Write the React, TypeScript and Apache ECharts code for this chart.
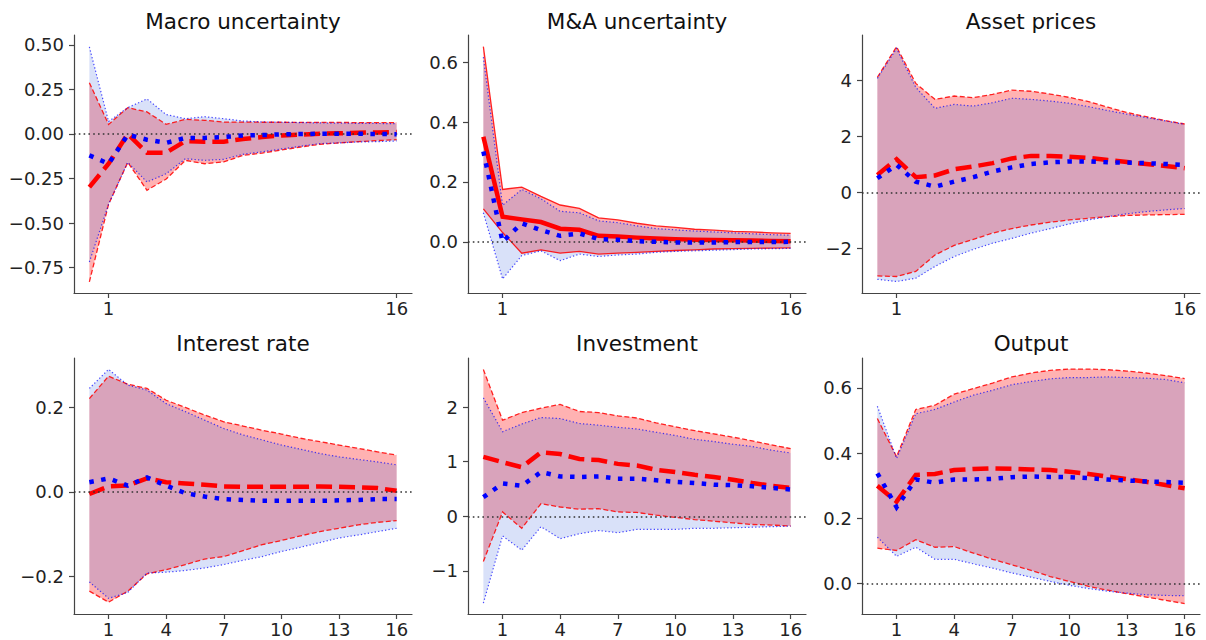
import React, { useEffect, useRef } from "react";
import * as echarts from "echarts";

// Horizons
const horizons = [0, 1, 2, 3, 4, 5, 6, 7, 8, 9, 10, 11, 12, 13, 14, 15, 16];
const topTicks = [1, 16];
const bottomTicks = [1, 4, 7, 10, 13, 16];

// Panel titles
const titles = ["Macro uncertainty", "M&A uncertainty", "Asset prices", "Interest rate", "Investment", "Output"];

// Macro uncertainty
const macroRedUp = [0.288, 0.054, 0.148, 0.124, 0.054, 0.082, 0.077, 0.067, 0.067, 0.066, 0.066, 0.065, 0.065, 0.065, 0.064, 0.064, 0.064];
const macroRedLo = [-0.831, -0.395, -0.159, -0.316, -0.253, -0.148, -0.167, -0.157, -0.12, -0.107, -0.09, -0.073, -0.058, -0.05, -0.043, -0.037, -0.032];
const macroRedMed = [-0.298, -0.167, 0.0, -0.105, -0.105, -0.04, -0.043, -0.043, -0.028, -0.017, -0.008, -0.004, 0.002, 0.004, 0.007, 0.009, 0.011];
const macroBlueUp = [0.489, 0.07, 0.148, 0.197, 0.109, 0.086, 0.097, 0.086, 0.073, 0.068, 0.066, 0.064, 0.062, 0.061, 0.06, 0.059, 0.058];
const macroBlueLo = [-0.719, -0.395, -0.159, -0.27, -0.223, -0.139, -0.148, -0.142, -0.114, -0.1, -0.084, -0.069, -0.054, -0.05, -0.045, -0.043, -0.039];
const macroBlueMed = [-0.12, -0.167, -0.004, -0.032, -0.05, -0.022, -0.022, -0.017, -0.008, -0.006, -0.002, 0.0, 0.001, 0.001, 0.001, 0.0, -0.001];

// M&A uncertainty
const maRedUp = [0.652, 0.175, 0.183, 0.152, 0.123, 0.112, 0.08, 0.073, 0.062, 0.053, 0.048, 0.042, 0.039, 0.035, 0.033, 0.03, 0.028];
const maRedLo = [0.11, 0.031, -0.038, -0.027, -0.038, -0.032, -0.041, -0.038, -0.035, -0.032, -0.029, -0.027, -0.024, -0.023, -0.022, -0.021, -0.02];
const maRedMed = [0.351, 0.084, 0.075, 0.066, 0.044, 0.04, 0.02, 0.018, 0.014, 0.011, 0.009, 0.007, 0.006, 0.005, 0.004, 0.003, 0.002];
const maBlueUp = [0.617, 0.122, 0.175, 0.144, 0.102, 0.097, 0.07, 0.064, 0.053, 0.044, 0.04, 0.036, 0.033, 0.03, 0.027, 0.024, 0.022];
const maBlueLo = [0.097, -0.124, -0.046, -0.03, -0.063, -0.041, -0.049, -0.044, -0.041, -0.035, -0.032, -0.03, -0.028, -0.026, -0.024, -0.023, -0.022];
const maBlueMed = [0.302, 0.0, 0.062, 0.039, 0.02, 0.028, 0.009, 0.007, 0.002, 0.0, -0.002, -0.002, -0.002, -0.001, -0.001, -0.001, 0.0];

// Asset prices
const assetRedUp = [4.11, 5.2, 3.89, 3.32, 3.44, 3.38, 3.5, 3.65, 3.61, 3.51, 3.39, 3.24, 3.04, 2.85, 2.7, 2.56, 2.44];
const assetRedLo = [-2.99, -3.01, -2.83, -2.24, -1.9, -1.68, -1.46, -1.3, -1.17, -1.07, -0.99, -0.93, -0.87, -0.83, -0.81, -0.8, -0.79];
const assetRedMed = [0.62, 1.18, 0.54, 0.6, 0.82, 0.92, 1.04, 1.21, 1.3, 1.3, 1.27, 1.23, 1.15, 1.08, 1.01, 0.94, 0.86];
const assetBlueUp = [4.07, 5.14, 3.75, 3.0, 3.14, 3.08, 3.2, 3.36, 3.32, 3.26, 3.18, 3.06, 2.92, 2.79, 2.67, 2.55, 2.43];
const assetBlueLo = [-3.11, -3.19, -3.07, -2.65, -2.3, -2.04, -1.82, -1.65, -1.46, -1.3, -1.13, -0.99, -0.87, -0.77, -0.69, -0.63, -0.58];
const assetBlueMed = [0.5, 0.98, 0.38, 0.2, 0.38, 0.54, 0.74, 0.89, 1.01, 1.07, 1.1, 1.1, 1.07, 1.06, 1.04, 1.01, 0.98];

// Interest rate
const rateRedUp = [0.221, 0.274, 0.255, 0.245, 0.217, 0.2, 0.182, 0.166, 0.156, 0.146, 0.137, 0.127, 0.119, 0.111, 0.103, 0.095, 0.087];
const rateRedLo = [-0.235, -0.261, -0.235, -0.194, -0.184, -0.172, -0.159, -0.153, -0.139, -0.125, -0.115, -0.104, -0.094, -0.086, -0.078, -0.072, -0.068];
const rateRedMed = [-0.005, 0.013, 0.015, 0.032, 0.023, 0.02, 0.017, 0.013, 0.012, 0.012, 0.012, 0.012, 0.013, 0.012, 0.011, 0.009, 0.003];
const rateBlueUp = [0.245, 0.29, 0.253, 0.241, 0.209, 0.19, 0.17, 0.15, 0.135, 0.123, 0.111, 0.101, 0.091, 0.083, 0.077, 0.071, 0.064];
const rateBlueLo = [-0.213, -0.252, -0.238, -0.192, -0.19, -0.186, -0.18, -0.172, -0.162, -0.153, -0.141, -0.131, -0.12, -0.109, -0.102, -0.094, -0.086];
const rateBlueMed = [0.023, 0.032, 0.015, 0.034, 0.015, -0.003, -0.011, -0.017, -0.019, -0.021, -0.021, -0.021, -0.021, -0.02, -0.019, -0.017, -0.017];

// Investment
const invRedUp = [2.69, 1.76, 1.9, 1.98, 2.05, 1.92, 1.9, 1.84, 1.8, 1.71, 1.64, 1.57, 1.51, 1.45, 1.38, 1.31, 1.24];
const invRedLo = [-0.83, 0.08, -0.22, 0.23, 0.17, 0.13, 0.14, 0.08, 0.07, 0.02, -0.02, -0.06, -0.09, -0.12, -0.15, -0.16, -0.18];
const invRedMed = [1.09, 0.99, 0.9, 1.17, 1.14, 1.05, 1.03, 0.96, 0.93, 0.85, 0.81, 0.76, 0.72, 0.67, 0.61, 0.56, 0.52];
const invBlueUp = [2.17, 1.55, 1.69, 1.81, 1.79, 1.7, 1.67, 1.63, 1.6, 1.54, 1.48, 1.41, 1.37, 1.32, 1.28, 1.21, 1.16];
const invBlueLo = [-1.59, -0.36, -0.62, -0.19, -0.41, -0.32, -0.26, -0.3, -0.24, -0.24, -0.24, -0.22, -0.22, -0.21, -0.2, -0.19, -0.18];
const invBlueMed = [0.35, 0.6, 0.56, 0.81, 0.73, 0.72, 0.73, 0.69, 0.69, 0.66, 0.63, 0.61, 0.58, 0.57, 0.55, 0.52, 0.49];

// Output
const outRedUp = [0.506, 0.389, 0.534, 0.547, 0.581, 0.598, 0.615, 0.634, 0.646, 0.654, 0.658, 0.658, 0.656, 0.652, 0.646, 0.638, 0.629];
const outRedLo = [0.108, 0.101, 0.134, 0.111, 0.113, 0.093, 0.074, 0.057, 0.04, 0.021, 0.006, -0.009, -0.021, -0.032, -0.042, -0.052, -0.062];
const outRedMed = [0.3, 0.251, 0.333, 0.336, 0.348, 0.351, 0.353, 0.352, 0.35, 0.348, 0.343, 0.336, 0.328, 0.32, 0.312, 0.302, 0.292];
const outBlueUp = [0.544, 0.384, 0.521, 0.534, 0.557, 0.578, 0.593, 0.61, 0.62, 0.628, 0.632, 0.632, 0.634, 0.632, 0.63, 0.626, 0.616];
const outBlueLo = [0.142, 0.083, 0.111, 0.074, 0.074, 0.06, 0.047, 0.032, 0.019, 0.006, -0.006, -0.016, -0.024, -0.03, -0.035, -0.037, -0.038];
const outBlueMed = [0.338, 0.234, 0.319, 0.309, 0.319, 0.319, 0.321, 0.326, 0.328, 0.327, 0.326, 0.323, 0.319, 0.316, 0.313, 0.311, 0.309];

// Y tick values per panel
const yTicks = [
  [-0.75, -0.5, -0.25, 0, 0.25, 0.5],
  [0, 0.2, 0.4, 0.6],
  [-2, 0, 2, 4],
  [-0.2, 0, 0.2],
  [-1, 0, 1, 2],
  [0, 0.2, 0.4, 0.6],
];
const yDecimals = [2, 1, 0, 1, 0, 1];
const yRanges = [
  [-0.893, 0.556],
  [-0.171, 0.691],
  [-3.6, 5.62],
  [-0.289, 0.317],
  [-1.79, 2.9],
  [-0.094, 0.692],
];

const panels = [
  { redUp: macroRedUp, redLo: macroRedLo, redMed: macroRedMed, blueUp: macroBlueUp, blueLo: macroBlueLo, blueMed: macroBlueMed, solidRed: false },
  { redUp: maRedUp, redLo: maRedLo, redMed: maRedMed, blueUp: maBlueUp, blueLo: maBlueLo, blueMed: maBlueMed, solidRed: true },
  { redUp: assetRedUp, redLo: assetRedLo, redMed: assetRedMed, blueUp: assetBlueUp, blueLo: assetBlueLo, blueMed: assetBlueMed, solidRed: false },
  { redUp: rateRedUp, redLo: rateRedLo, redMed: rateRedMed, blueUp: rateBlueUp, blueLo: rateBlueLo, blueMed: rateBlueMed, solidRed: false },
  { redUp: invRedUp, redLo: invRedLo, redMed: invRedMed, blueUp: invBlueUp, blueLo: invBlueLo, blueMed: invBlueMed, solidRed: false },
  { redUp: outRedUp, redLo: outRedLo, redMed: outRedMed, blueUp: outBlueUp, blueLo: outBlueLo, blueMed: outBlueMed, solidRed: false },
];

const FONT = "DejaVu Sans";
const LEFTS = [74, 468, 862];
const WIDTH = 338;
const TOPS = [35, 358];
const HEIGHTS = [258, 256];

function fmt(v: number, d: number) {
  return v.toFixed(d).replace("-", "\u2212");
}

function pairs(arr: number[]) {
  return horizons.map((x, i) => [x, arr[i]]);
}

function bandSeries(idx: number, up: number[], lo: number[], fill: string, z: number) {
  return {
    type: "custom",
    xAxisIndex: idx,
    yAxisIndex: idx,
    z,
    silent: true,
    data: horizons.map((x, i) => [x, lo[i], up[i]]),
    encode: { x: 0, y: [1, 2] },
    renderItem: (params: any, api: any) => {
      if (params.dataIndex !== 0) return null;
      const pts: number[][] = [];
      for (let i = 0; i < horizons.length; i++) pts.push(api.coord([horizons[i], up[i]]));
      for (let i = horizons.length - 1; i >= 0; i--) pts.push(api.coord([horizons[i], lo[i]]));
      return { type: "polygon", shape: { points: pts }, style: { fill, stroke: "none" } };
    },
  };
}

function lineSeries(idx: number, arr: number[], color: string, width: number, type: any, z: number, extra: any = {}) {
  return {
    type: "line",
    xAxisIndex: idx,
    yAxisIndex: idx,
    data: pairs(arr),
    symbol: "none",
    silent: true,
    z,
    lineStyle: { color, width, type, cap: "butt", join: "miter" },
    ...extra,
  };
}

export default function App() {
  const ref = useRef<HTMLDivElement>(null);
  useEffect(() => {
    if (!ref.current) return;
    const chart = echarts.init(ref.current, undefined, { renderer: "svg" });
    const grid: any[] = [];
    const xAxis: any[] = [];
    const yAxis: any[] = [];
    const series: any[] = [];
    const graphic: any[] = [];
    panels.forEach((p, idx) => {
      const row = Math.floor(idx / 3);
      const col = idx % 3;
      grid.push({ left: LEFTS[col], top: TOPS[row], width: WIDTH, height: HEIGHTS[row], containLabel: false });
      const xt = row === 0 ? topTicks : bottomTicks;
      xAxis.push({
        type: "value",
        gridIndex: idx,
        min: -0.8,
        max: 16.8,
        splitLine: { show: false },
        axisLine: { show: true, onZero: false, lineStyle: { color: "#444", width: 1.2 } },
        axisTick: { show: true, customValues: xt, length: 5, lineStyle: { color: "#444", width: 1.2 } },
        axisLabel: { customValues: xt, margin: 6, color: "#222", fontSize: 18, fontFamily: FONT, formatter: (v: number) => String(v) },
      });
      yAxis.push({
        type: "value",
        gridIndex: idx,
        min: yRanges[idx][0],
        max: yRanges[idx][1],
        splitLine: { show: false },
        axisLine: { show: true, onZero: false, lineStyle: { color: "#444", width: 1.2 } },
        axisTick: { show: true, customValues: yTicks[idx], length: 5, lineStyle: { color: "#444", width: 1.2 } },
        axisLabel: { customValues: yTicks[idx], margin: 10, color: "#222", fontSize: 18, fontFamily: FONT, formatter: (v: number) => fmt(v, yDecimals[idx]) },
      });
      series.push(bandSeries(idx, p.redUp, p.redLo, "rgba(255,0,0,0.3)", 1));
      series.push(bandSeries(idx, p.blueUp, p.blueLo, "rgba(65,105,225,0.2)", 2));
      const redEdgeType = p.solidRed ? "solid" : [5, 2.5];
      series.push(lineSeries(idx, p.redUp, "rgba(255,0,0,0.85)", 1.3, redEdgeType, 3));
      series.push(lineSeries(idx, p.redLo, "rgba(255,0,0,0.85)", 1.3, redEdgeType, 3));
      series.push(lineSeries(idx, p.blueUp, "rgba(0,0,255,0.7)", 1.2, [1.3, 2.2], 3));
      series.push(
        lineSeries(idx, p.blueLo, "rgba(0,0,255,0.7)", 1.2, [1.3, 2.2], 3, {
          markLine: {
            silent: true,
            symbol: ["none", "none"],
            label: { show: false },
            lineStyle: { color: "#333", width: 1.6, type: [1.6, 3.2] },
            data: [{ yAxis: 0 }],
          },
        })
      );
      series.push(lineSeries(idx, p.redMed, "#ff0000", 4.5, p.solidRed ? "solid" : [16, 7], 4));
      series.push(lineSeries(idx, p.blueMed, "#0000ff", 4.5, [4.5, 7.5], 5));
      graphic.push({
        type: "text",
        x: LEFTS[col] + WIDTH / 2,
        y: row === 0 ? 21 : 343,
        style: {
          text: titles[idx],
          align: "center",
          verticalAlign: "middle",
          fontSize: 21.5,
          fontFamily: FONT,
          fill: "#111",
        },
      });
    });
    chart.setOption({
      animation: false,
      backgroundColor: "#ffffff",
      grid,
      xAxis,
      yAxis,
      series,
      graphic,
    });
    return () => chart.dispose();
  }, []);
  return <div ref={ref} style={{ position: "fixed", left: 0, top: 0, width: 1206, height: 640 }} />;
}
